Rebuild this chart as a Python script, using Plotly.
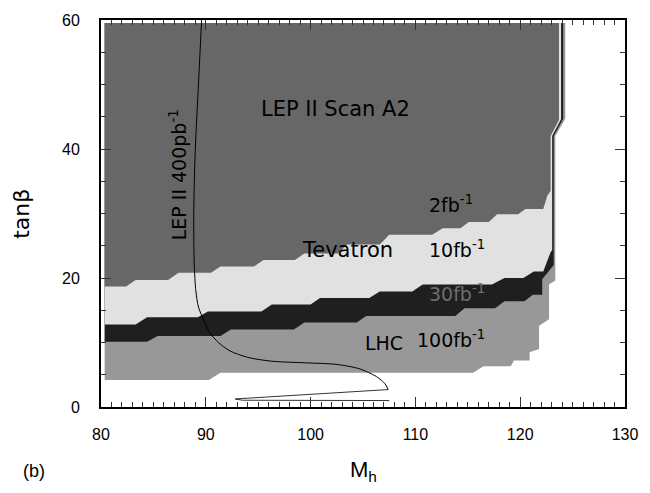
import plotly.graph_objects as go

# ---- data ----
# LHC 100 fb^-1 reach (medium grey)
lhc100_x = [80.35, 90.3, 91.4, 115.5, 116.5, 119.1, 119.4, 120.9, 120.9, 121.8, 121.8, 122.75, 122.75, 123.35, 123.35, 124.3, 124.3, 80.35]
lhc100_y = [4.2, 4.2, 5.3, 5.3, 6.3, 6.3, 7.2, 7.2, 8.5, 9.0, 12.6, 13.6, 19.0, 19.6, 42.0, 44.7, 59.55, 59.55]
# LHC 30 fb^-1 reach (black)
lhc30_x = [80.35, 84.4, 85.4, 91.4, 92.4, 98.4, 99.4, 104.4, 105.3, 113.8, 114.7, 117.6, 118.5, 120.4, 121.2, 122.1, 122.1, 123.2, 123.2, 124.1, 124.1, 80.35]
lhc30_y = [10.1, 10.1, 11.0, 11.0, 12.0, 12.0, 13.1, 13.1, 14.1, 14.1, 15.3, 15.3, 16.4, 16.4, 17.4, 17.4, 19.8, 22.0, 42.0, 44.7, 59.55, 59.55]
# Tevatron 10 fb^-1 reach (light grey)
tev10_x = [80.35, 83.3, 84.4, 89.25, 90.2, 95.3, 96.3, 100.0, 100.9, 105.6, 106.6, 109.7, 110.7, 117.3, 118.5, 120.3, 121.3, 122.2, 122.9, 123.05, 123.05, 123.9, 123.9, 80.35]
tev10_y = [12.8, 12.8, 13.9, 13.9, 14.8, 14.8, 15.9, 15.9, 16.9, 16.9, 17.9, 17.9, 19.0, 19.0, 20.0, 20.0, 21.0, 21.0, 24.0, 24.3, 42.0, 44.6, 59.55, 59.55]
# LEP II scan A2 / Tevatron 2 fb^-1 (dark grey)
lep_x = [80.35, 82.4, 83.3, 86.4, 87.4, 90.5, 91.4, 94.6, 95.5, 98.5, 99.4, 102.6, 103.5, 106.6, 107.5, 111.6, 112.6, 114.3, 115.1, 117.0, 117.8, 119.8, 120.5, 122.2, 122.6, 122.9, 122.9, 123.7, 123.7, 80.35]
lep_y = [18.7, 18.7, 19.7, 19.7, 20.8, 20.8, 21.8, 21.8, 22.8, 22.8, 23.8, 23.8, 25.2, 25.2, 26.7, 26.7, 27.7, 27.7, 28.7, 28.7, 29.9, 29.9, 30.7, 30.7, 32.8, 33.5, 42.0, 44.5, 59.55, 59.55]
# LEP II 400 pb^-1 contour (thin line)
lep400_x = [89.6, 89.3, 89.0, 88.85, 88.9, 89.05, 89.3, 89.8, 90.4, 91.2, 92.3, 94.0, 96.3, 99.5, 102.5, 104.7, 106.3, 107.1, 107.4]
lep400_y = [60, 50, 40, 30, 22, 18, 15.5, 13.5, 11.5, 10.0, 8.7, 7.7, 7.1, 6.85, 6.6, 5.9, 4.7, 3.6, 2.7]
sliver_x = [107.4, 92.8, 93.5, 107.5]
sliver_y = [2.7, 1.25, 1.05, 1.0]

x_ticks = [80, 90, 100, 110, 120, 130]
y_ticks = [0, 20, 40, 60]

FONT = "Liberation Sans, Arial, sans-serif"
LFONT = "DejaVu Sans, sans-serif"

fig = go.Figure()
for xs, ys, col in [(lhc100_x, lhc100_y, "#989898"),
                    (lhc30_x, lhc30_y, "#1f1f1f"),
                    (tev10_x, tev10_y, "#e1e1e1"),
                    (lep_x, lep_y, "#676767")]:
    fig.add_trace(go.Scatter(x=xs, y=ys, mode="lines", fill="toself", fillcolor=col,
                             line=dict(width=0, color=col), hoverinfo="skip"))

fig.add_trace(go.Scatter(x=lep400_x, y=lep400_y, mode="lines",
                         line=dict(color="black", width=1, shape="spline", smoothing=0.8)))
fig.add_trace(go.Scatter(x=sliver_x, y=sliver_y, mode="lines",
                         line=dict(color="black", width=0.8)))

ann = []
def add(text, x, y, size=21, color="black", xanchor="left", angle=0):
    ann.append(dict(text=text, x=x, y=y, xref="x", yref="y", showarrow=False,
                    xanchor=xanchor, yanchor="middle", textangle=angle,
                    font=dict(family=LFONT, size=size, color=color)))

add("LEP II Scan A2", 95.1, 46.2, size=21)
add("2fb<sup>-1</sup>", 111.1, 31.5, size=19)
add("Tevatron", 99.0, 24.3, size=21)
add("10fb<sup>-1</sup>", 111.1, 24.5, size=19)
add("30fb<sup>-1</sup>", 111.1, 17.6, size=19, color="#6e6e6e")
add("LHC", 105.0, 10.0, size=19)
add("100fb<sup>-1</sup>", 110.0, 10.5, size=19)
add("LEP II 400pb<sup>-1</sup>", 87.3, 36.0, size=19, xanchor="center", angle=-90)

ann.append(dict(text="M<sub>h</sub>", x=0.5, y=-0.165, xref="paper", yref="paper",
                showarrow=False, xanchor="center", yanchor="middle",
                font=dict(family=FONT, size=22, color="black")))
ann.append(dict(text="(b)", x=-0.128, y=-0.165, xref="paper", yref="paper",
                showarrow=False, xanchor="center", yanchor="middle",
                font=dict(family=FONT, size=18, color="black")))
ann.append(dict(text="tanβ", x=-0.152, y=0.5, xref="paper", yref="paper",
                showarrow=False, xanchor="center", yanchor="middle", textangle=-90,
                font=dict(family=LFONT, size=22, color="black")))
fig.update_layout(annotations=ann)

fig.update_layout(
    width=650, height=493,
    margin=dict(l=101, r=18, t=15, b=86),
    paper_bgcolor="white", plot_bgcolor="white",
    showlegend=False,
    font=dict(family=FONT, color="black"),
    xaxis=dict(range=[80, 130], tickmode="array", tickvals=x_ticks,
               ticktext=[str(v) for v in x_ticks],
               ticks="inside", ticklen=10, tickwidth=1, tickcolor="#333",
               minor=dict(tickmode="linear", tick0=80, dtick=1, ticks="inside",
                          ticklen=5, tickwidth=1, tickcolor="#333"),
               showline=True, linewidth=2, linecolor="black", mirror="allticks",
               showgrid=False, zeroline=False,
               tickfont=dict(size=16, family=FONT), ticklabelstandoff=12),
    yaxis=dict(range=[0, 60], tickmode="array", tickvals=y_ticks,
               ticktext=[str(v) for v in y_ticks],
               ticks="inside", ticklen=10, tickwidth=1, tickcolor="#333",
               minor=dict(tickmode="linear", tick0=0, dtick=5, ticks="inside",
                          ticklen=5, tickwidth=1, tickcolor="#333"),
               showline=True, linewidth=2, linecolor="black", mirror="allticks",
               showgrid=False, zeroline=False,
               tickfont=dict(size=16, family=FONT), ticklabelstandoff=16),
)

fig.write_html("out.html")
